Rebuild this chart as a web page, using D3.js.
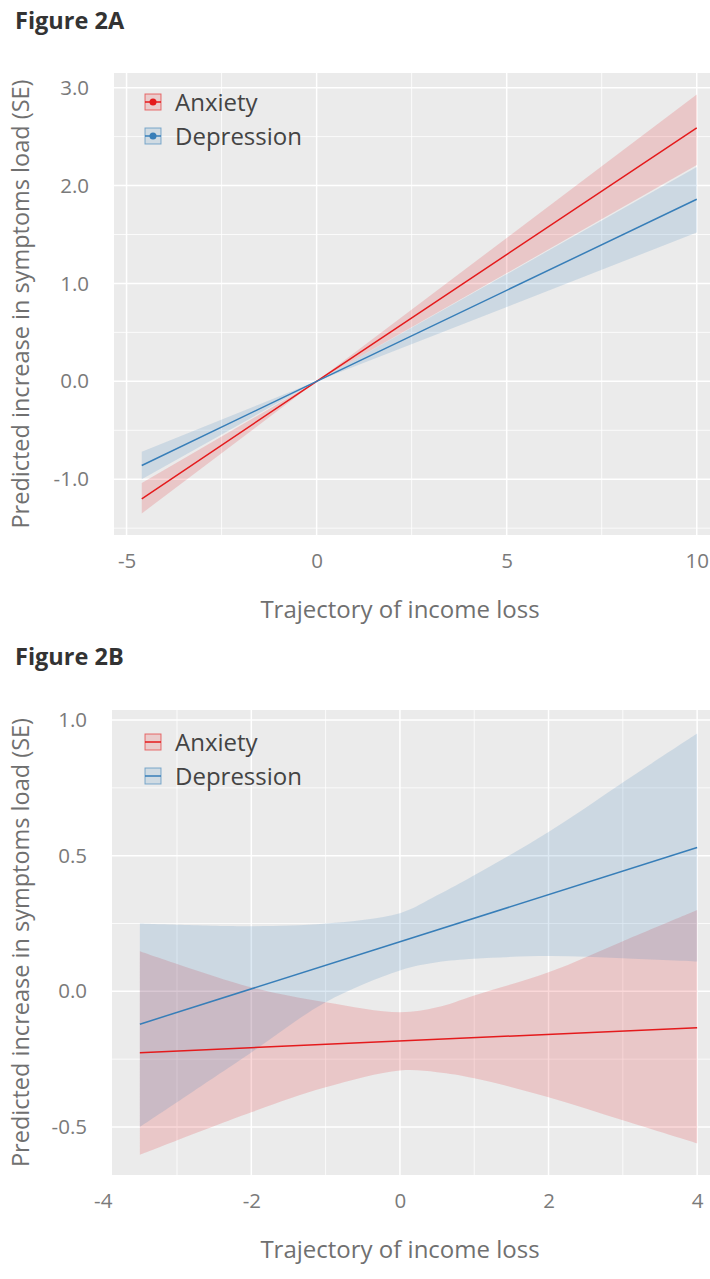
<!DOCTYPE html>
<html><head><meta charset="utf-8">
<script src="https://cdn.jsdelivr.net/npm/d3@7"></script>
<style>
body{margin:0;background:#fff;}
svg{display:block;}
text{font-family:"Open Sans",sans-serif;}
</style></head>
<body>
<script>
// ---------- Panel A data ----------
const seriesNames = ["Anxiety", "Depression"];
const seriesColors = ["#E41A1C", "#377EB8"];
const xA = [-4.6, 0, 10];
const anxFitA = [-1.20, 0, 2.59];
const anxLowA = [-1.35, 0, 2.21];
const anxUpA  = [-1.04, 0, 2.93];
const depFitA = [-0.86, 0, 1.86];
const depLowA = [-1.00, 0, 1.52];
const depUpA  = [-0.72, 0, 2.19];
const xTicksA = [-5, 0, 5, 10];
const xTickLabelsA = ["-5", "0", "5", "10"];
const xMinorA = [-2.5, 2.5, 7.5];
const yTicksA = [-1, 0, 1, 2, 3];
const yTickLabelsA = ["-1.0", "0.0", "1.0", "2.0", "3.0"];
const yMinorA = [-1.5, -0.5, 0.5, 1.5, 2.5];

// ---------- Panel B data ----------
const xFitB = [-3.5, 4];
const anxFitB = [-0.226, -0.134];
const depFitB = [-0.121, 0.530];
const xBandB = [-3.5, -2, -1, 0, 0.5, 1, 2, 3, 4];
const anxLowB = [-0.603, -0.446, -0.354, -0.292, -0.298, -0.320, -0.390, -0.475, -0.560];
const anxUpB  = [0.148, 0.015, -0.040, -0.077, -0.059, -0.015, 0.070, 0.185, 0.300];
const depLowB = [-0.500, -0.225, -0.040, 0.077, 0.107, 0.120, 0.130, 0.122, 0.110];
const depUpB  = [0.250, 0.240, 0.250, 0.288, 0.354, 0.428, 0.587, 0.770, 0.950];
const xTicksB = [-4, -2, 0, 2, 4];
const xTickLabelsB = ["-4", "-2", "0", "2", "4"];
const xMinorB = [-3, -1, 1, 3];
const yTicksB = [-0.5, 0, 0.5, 1];
const yTickLabelsB = ["-0.5", "0.0", "0.5", "1.0"];
const yMinorB = [-0.25, 0.25, 0.75];

const W = 710, H = 1279;
const svg = d3.select("body").append("svg").attr("width", W).attr("height", H);

function panel(cfg) {
  const g = svg.append("g");
  const x = d3.scaleLinear().domain(cfg.xDomain).range(cfg.xRange);
  const y = d3.scaleLinear().domain(cfg.yDomain).range(cfg.yRange);
  const [x0, x1] = cfg.xRange, [y1, y0] = cfg.yRange;
  g.append("text").attr("x", 15).attr("y", cfg.titleY).text(cfg.title)
    .attr("font-size", 23.5).attr("font-weight", 700).attr("fill", "#333");
  g.append("rect").attr("x", x0).attr("y", y0).attr("width", x1 - x0).attr("height", y1 - y0).attr("fill", "#EBEBEB");
  const grid = g.append("g").attr("stroke", "#fff");
  cfg.xMinor.forEach(v => grid.append("line").attr("x1", x(v)).attr("x2", x(v)).attr("y1", y0).attr("y2", y1).attr("stroke-width", 0.8));
  cfg.yMinor.forEach(v => grid.append("line").attr("y1", y(v)).attr("y2", y(v)).attr("x1", x0).attr("x2", x1).attr("stroke-width", 0.8));
  cfg.xTicks.forEach(v => grid.append("line").attr("x1", x(v)).attr("x2", x(v)).attr("y1", y0).attr("y2", y1).attr("stroke-width", 1.5));
  cfg.yTicks.forEach(v => grid.append("line").attr("y1", y(v)).attr("y2", y(v)).attr("x1", x0).attr("x2", x1).attr("stroke-width", 1.5));

  const area = d3.area().x(d => x(d.x)).y0(d => y(d.lo)).y1(d => y(d.hi)).curve(cfg.curve);
  const line = d3.line().x(d => x(d.x)).y(d => y(d.y));
  cfg.bands.forEach((b, i) => {
    const data = cfg.bandX.map((xv, k) => ({x: xv, lo: b.lo[k], hi: b.hi[k]}));
    g.append("path").datum(data).attr("d", area).attr("fill", seriesColors[i]).attr("fill-opacity", 0.17);
  });
  cfg.fits.forEach((f, i) => {
    const data = cfg.fitX.map((xv, k) => ({x: xv, y: f[k]}));
    g.append("path").datum(data).attr("d", line).attr("fill", "none").attr("stroke", seriesColors[i]).attr("stroke-width", 1.5);
  });

  // axes
  const ax = g.append("g").attr("transform", `translate(0,${y1})`)
    .call(d3.axisBottom(x).tickValues(cfg.xTicks).tickSize(0).tickPadding(18).tickFormat((d, i) => cfg.xLabels[i]));
  const ay = g.append("g").attr("transform", `translate(${x0},0)`)
    .call(d3.axisLeft(y).tickValues(cfg.yTicks).tickSize(0).tickPadding(25).tickFormat((d, i) => cfg.yLabels[i]));
  [ax, ay].forEach(a => {
    a.select(".domain").remove();
    a.selectAll("text").attr("font-family", "Open Sans").attr("font-size", 20.5).attr("fill", "#7a7a7a");
  });
  g.append("text").attr("x", 400).attr("y", y1 + 83).attr("text-anchor", "middle")
    .attr("font-size", 24).attr("fill", "#707070").text("Trajectory of income loss");
  g.append("text").attr("transform", `translate(29,${(y0 + y1) / 2}) rotate(-90)`).attr("text-anchor", "middle")
    .attr("font-size", 23.5).attr("fill", "#707070").text("Predicted increase in symptoms load (SE)");

  // legend
  seriesNames.forEach((n, i) => {
    const cy = cfg.legY + i * 34;
    const lg = g.append("g");
    lg.append("rect").attr("x", 145).attr("y", cy - 8).attr("width", 16).attr("height", 16)
      .attr("fill", seriesColors[i]).attr("fill-opacity", 0.15).attr("stroke", seriesColors[i]).attr("stroke-opacity", 0.6).attr("stroke-width", 1);
    lg.append("line").attr("x1", 145).attr("x2", 161).attr("y1", cy).attr("y2", cy).attr("stroke", seriesColors[i]).attr("stroke-width", 1.5);
    if (cfg.dots) lg.append("circle").attr("cx", 153).attr("cy", cy).attr("r", 3.5).attr("fill", seriesColors[i]);
    lg.append("text").attr("x", 175).attr("y", cy + 9).attr("font-size", 24).attr("fill", "#444").text(n);
  });
}

panel({
  title: "Figure 2A", titleY: 29,
  xDomain: [-5.33, 10.73], xRange: [114, 724.5],
  yDomain: [-1.57, 3.15], yRange: [535, 73],
  xTicks: xTicksA, xLabels: xTickLabelsA, xMinor: xMinorA,
  yTicks: yTicksA, yLabels: yTickLabelsA, yMinor: yMinorA,
  bandX: xA, bands: [{lo: anxLowA, hi: anxUpA}, {lo: depLowA, hi: depUpA}],
  fitX: xA, fits: [anxFitA, depFitA], curve: d3.curveLinear,
  legY: 102, dots: true
});
panel({
  title: "Figure 2B", titleY: 665,
  xDomain: [-3.875, 4.375], xRange: [112, 725],
  yDomain: [-0.677, 1.037], yRange: [1175, 710],
  xTicks: xTicksB, xLabels: xTickLabelsB, xMinor: xMinorB,
  yTicks: yTicksB, yLabels: yTickLabelsB, yMinor: yMinorB,
  bandX: xBandB, bands: [{lo: anxLowB, hi: anxUpB}, {lo: depLowB, hi: depUpB}],
  fitX: xFitB, fits: [anxFitB, depFitB], curve: d3.curveCatmullRom.alpha(0.5),
  legY: 742, dots: false
});
</script>
</body></html>
